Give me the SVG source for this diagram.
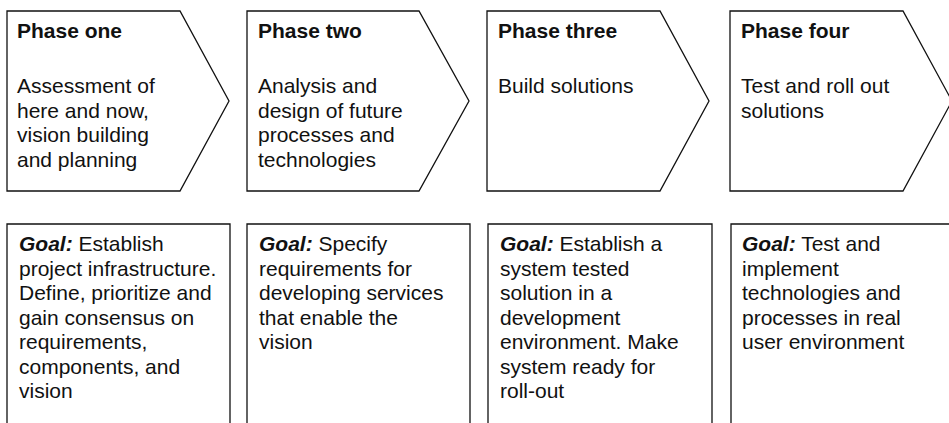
<svg xmlns="http://www.w3.org/2000/svg" width="949" height="423" viewBox="0 0 949 423">
<style>
.shape{fill:#fff;stroke:#111;stroke-width:1.3}
text{font-family:"Liberation Sans",Arial,Helvetica,sans-serif;font-size:21px;fill:#111}
.t{font-weight:bold}
.g{font-weight:bold;font-style:italic}
</style>
<rect width="949" height="423" fill="#fff"/>
<g id="phase1">
<path class="shape" d="M7,11 H180 L229,101 L180,191 H7 Z"/>
<text class="t" x="17" y="38">Phase one</text>
<text x="17" y="93">Assessment of</text>
<text x="17" y="117.7">here and now,</text>
<text x="17" y="142.4">vision building</text>
<text x="17" y="167">and planning</text>
</g>
<g id="phase2">
<path class="shape" d="M247,11 H419 L469,101 L419,191 H247 Z"/>
<text class="t" x="258" y="38">Phase two</text>
<text x="258" y="93">Analysis and</text>
<text x="258" y="117.7">design of future</text>
<text x="258" y="142.4">processes and</text>
<text x="258" y="167">technologies</text>
</g>
<g id="phase3">
<path class="shape" d="M487,11 H660 L709,101 L660,191 H487 Z"/>
<text class="t" x="498" y="38">Phase three</text>
<text x="498" y="93">Build solutions</text>
</g>
<g id="phase4">
<path class="shape" d="M730,11 H903 L952,101 L903,191 H730 Z"/>
<text class="t" x="741" y="38">Phase four</text>
<text x="741" y="93">Test and roll out</text>
<text x="741" y="117.7">solutions</text>
</g>
<g id="goal1">
<path class="shape" d="M7,430 V224 H230 V430"/>
<text x="19" y="251"><tspan class="g">Goal:</tspan> Establish</text>
<text x="19" y="275.5">project infrastructure.</text>
<text x="19" y="300">Define, prioritize and</text>
<text x="19" y="324.5">gain consensus on</text>
<text x="19" y="349">requirements,</text>
<text x="19" y="373.5">components, and</text>
<text x="19" y="398">vision</text>
</g>
<g id="goal2">
<path class="shape" d="M247,430 V224 H470 V430"/>
<text x="259" y="251"><tspan class="g">Goal:</tspan> Specify</text>
<text x="259" y="275.5">requirements for</text>
<text x="259" y="300">developing services</text>
<text x="259" y="324.5">that enable the</text>
<text x="259" y="349">vision</text>
</g>
<g id="goal3">
<path class="shape" d="M488,430 V224 H712 V430"/>
<text x="500" y="251"><tspan class="g">Goal:</tspan> Establish a</text>
<text x="500" y="275.5">system tested</text>
<text x="500" y="300">solution in a</text>
<text x="500" y="324.5">development</text>
<text x="500" y="349">environment. Make</text>
<text x="500" y="373.5">system ready for</text>
<text x="500" y="398">roll-out</text>
</g>
<g id="goal4">
<path class="shape" d="M731,430 V224 H960"/>
<text x="742" y="251"><tspan class="g">Goal:</tspan> Test and</text>
<text x="742" y="275.5">implement</text>
<text x="742" y="300">technologies and</text>
<text x="742" y="324.5">processes in real</text>
<text x="742" y="349">user environment</text>
</g>
<g id="connectors"/>
</svg>
